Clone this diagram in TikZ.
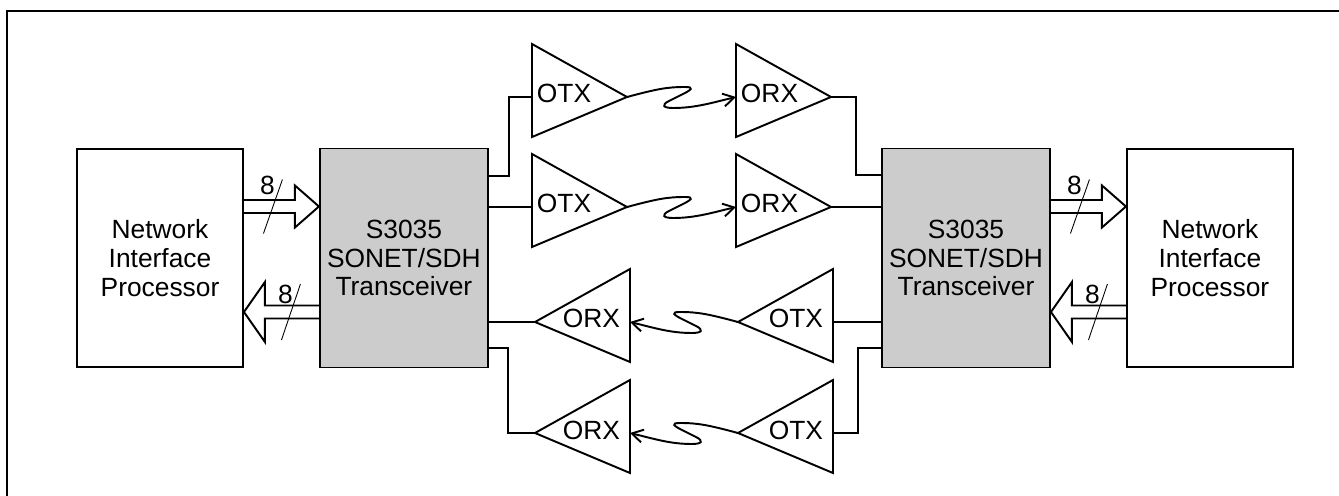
\documentclass[tikz,border=0pt]{standalone}
\usepackage{fontspec}
\setmainfont{Liberation Sans}
\usetikzlibrary{positioning,arrows.meta,calc}
\definecolor{chipgray}{gray}{0.8}

\tikzset{
  nipbox/.style={draw, minimum width=3.32cm, minimum height=4.36cm, align=center, inner sep=0pt},
  chipbox/.style={nipbox, fill=chipgray, minimum width=3.36cm, minimum height=4.38cm},
  fiber/.style={-{Straight Barb[length=2.2mm,width=2.6mm]}},
  % fibre squiggles, to the right / to the left
  squigr/.style={to path={.. controls +(30,-8) and +(-18,0) .. ++(58,-10)
      .. controls +(10,0) and +(8,-4) .. ++(-2,7) -- ++(-14,7)
      .. controls +(-8,4) and +(-10,0) .. ++(4,7)
      .. controls +(22,0) and +(-25,6) .. (\tikztotarget)}},
  squigl/.style={to path={.. controls +(-30,-8) and +(18,0) .. ++(-58,-10)
      .. controls +(-10,0) and +(-8,-4) .. ++(2,7) -- ++(14,7)
      .. controls +(8,4) and +(10,0) .. ++(-4,7)
      .. controls +(-22,0) and +(25,6) .. (\tikztotarget)}},
  % amplifier pointing right / left
  pics/ampr/.style={code={
    \draw (0,-53) -- (95,0) -- (0,40) -- cycle;
    \coordinate (-in) at (0,0);
    \coordinate (-out) at (95,0);
    \node[anchor=base west, inner sep=0pt] at (4,6) {#1};
  }},
  pics/ampl/.style={code={
    \draw (0,0) -- (95,-53) -- (95,40) -- cycle;
    \coordinate (-in) at (95,0);
    \coordinate (-out) at (0,0);
    \node[anchor=base east, inner sep=0pt] at (86,6) {#1};
  }},
  % 8 bit bus arrows
  pics/busr/.style={code={
    \draw (0,-6.5) -| (51,-21) -- (75,0) -- (51,21) |- (0,6.5);
    \draw[line width=0.5pt] (38.5,-27) -- (19.5,27);
    \node[inner sep=0pt] at (23.5,-21) {8};
  }},
  pics/busl/.style={code={
    \draw (75,-6.5) -| (21,-30) -- (0,0) -- (21,30) |- (75,6.5);
    \draw[line width=0.5pt] (56.5,-28) -- (37.5,28);
    \node[inner sep=0pt] at (41.5,-18) {8};
  }}
}

\begin{document}
\begin{tikzpicture}[x=0.02cm, y=-0.02cm, line width=1.1pt,
                    every node/.style={font=\fontsize{15}{16.3}\selectfont}]
  \useasboundingbox (0,0) rectangle (1339,496);
  \draw[line width=1.4pt] (7,496) |- (1339,11);

  \node[nipbox] (nipL) at (160,258) {Network\\Interface\\Processor};
  \node[chipbox, right=1.5cm of nipL] (xcvrL) {S3035\\SONET/SDH\\Transceiver};
  \node[chipbox] (xcvrR) at (966,258) {S3035\\SONET/SDH\\Transceiver};
  \node[nipbox, right=1.5cm of xcvrR] (nipR) {Network\\Interface\\Processor};

  % buses
  \pic at (nipL.east |- 0,206.5) {busr};
  \pic at (nipL.east |- 0,312) {busl};
  \pic at (xcvrR.east |- 0,206.5) {busr};
  \pic at (xcvrR.east |- 0,312) {busl};

  % optics
  \pic (otx1) at (532,97) {ampr=OTX};
  \pic (otx2) at (532,207) {ampr=OTX};
  \pic (orx1) at (736,97) {ampr=ORX};
  \pic (orx2) at (736,207) {ampr=ORX};
  \pic (orx3) at (535,322) {ampl=ORX};
  \pic (orx4) at (535,433) {ampl=ORX};
  \pic (otx3) at (738,322) {ampl=OTX};
  \pic (otx4) at (738,433) {ampl=OTX};

  \draw (otx1-in) -- ++(-23,0) |- ($(xcvrL.north east)+(0,28)$);
  \draw (xcvrL.east |- otx2-in) -- (otx2-in);
  \draw (orx3-out) -- (xcvrL.east |- orx3-out);
  \draw (orx4-out) -- ++(-27,0) |- ($(xcvrL.south east)+(0,-20)$);
  \draw (orx1-out) -- ++(25,0) |- ($(xcvrR.north west)+(0,27)$);
  \draw (orx2-out) -- (xcvrR.west |- orx2-out);
  \draw (xcvrR.west |- otx3-in) -- (otx3-in);
  \draw (otx4-in) -- ++(25,0) |- ($(xcvrR.south west)+(0,-20)$);

  % fibres
  \draw[fiber] (otx1-out) to[squigr] (orx1-in);
  \draw[fiber] (otx2-out) to[squigr] (orx2-in);
  \draw[fiber] (otx3-out) to[squigl] (orx3-in);
  \draw[fiber] (otx4-out) to[squigl] (orx4-in);
\end{tikzpicture}
\end{document}
